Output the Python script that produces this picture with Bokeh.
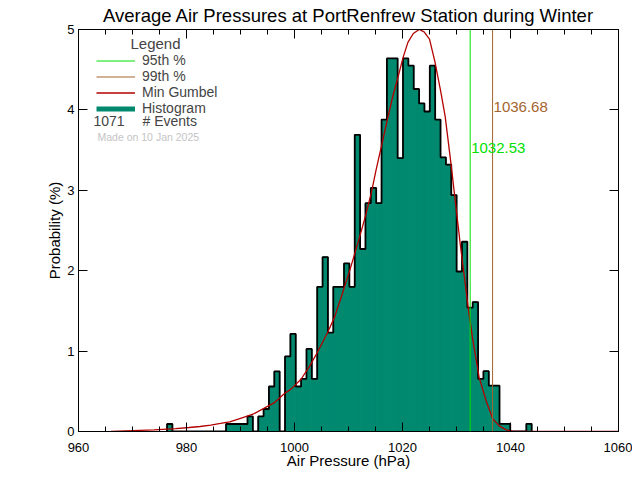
import numpy as np
from bokeh.plotting import figure
from bokeh.models import (Range1d, LinearAxis, FixedTicker, Span, Label, Title,
                          Legend, LegendItem, ColumnDataSource, CustomJSTickFormatter)
from bokeh.embed import file_html
from bokeh.resources import INLINE

# ---------------- data ----------------
title_text = "Average Air Pressures at PortRenfrew Station during Winter"
x_label = "Air Pressure (hPa)"
y_label = "Probability (%)"
x_ticks = [960, 980, 1000, 1020, 1040, 1060]
y_ticks = [0, 1, 2, 3, 4, 5]

bin_start = 976.4      # left edge of first histogram bin (hPa)
bin_width = 0.993      # hPa
probability = [
    0.093, 0, 0, 0, 0, 0, 0, 0, 0, 0,
    0, 0.093, 0.093, 0.093, 0.093, 0.187, 0, 0.187, 0.28, 0.56,
    0.747, 0, 0.934, 1.214, 0.56, 0.654, 1.027, 0.654, 1.80, 2.17,
    1.23, 1.80, 1.80, 2.09, 1.80, 3.69, 2.27, 2.84, 3.03, 2.84,
    3.88, 4.64, 4.64, 3.40, 4.64, 4.55, 4.26, 4.08, 3.98, 4.55,
    3.88, 3.41, 3.32, 2.94, 1.99, 2.36, 1.54, 1.61, 0.655, 0.75,
    0.57, 0.57, 0.096, 0.096, 0, 0, 0, 0.096,
]

gumbel_x = [966, 970, 974, 978, 980.5, 982.5, 984.5, 986.3, 988, 990.7,
            992.3, 994.4, 996.3, 998.1, 999.4, 1001.2, 1002.7, 1004.2, 1006.2, 1007.4,
            1008.6, 1010.3, 1011.1, 1012.1, 1013.1, 1014.2, 1015.1, 1016.1, 1017.3, 1018.2,
            1019.1, 1020.1, 1021.0, 1022.0, 1023.1, 1024.0, 1025.0, 1026.0, 1027.1, 1027.9,
            1029.0, 1029.9, 1030.8, 1031.5, 1032.2, 1033.0, 1034.2, 1035.5, 1036.7, 1037.9,
            1039.2, 1040.4, 1045, 1050, 1060]
gumbel_y = [0.0, 0.01, 0.02, 0.037, 0.05, 0.062, 0.08, 0.1, 0.12, 0.18,
            0.215, 0.29, 0.36, 0.47, 0.53, 0.65, 0.8, 0.98, 1.24, 1.42,
            1.66, 2.02, 2.2, 2.43, 2.67, 2.96, 3.25, 3.55, 3.91, 4.17,
            4.39, 4.65, 4.84, 4.95, 5.0, 4.97, 4.88, 4.6, 4.22, 3.92,
            3.32, 2.79, 2.27, 1.9, 1.52, 1.15, 0.67, 0.38, 0.16, 0.07,
            0.02, 0.005, 0, 0, 0]

p95 = 1032.53
p99 = 1036.68
p95_label_y = 3.53
p99_label_y = 4.04
n_events = 1071
made_on = "Made on 10 Jan 2025"

# ---------------- styling ----------------
FONT = "Liberation Sans"
TEAL = "#00896f"
RED = "#b40000"
GREEN = "#00e000"
BROWN = "#a5642d"

probability = np.array(probability, dtype=float)
edges = bin_start + bin_width * np.arange(len(probability) + 1)
left = edges[:-1]
right = edges[1:]

p = figure(width=632, height=472, output_backend="svg", toolbar_location=None,
           x_range=Range1d(960, 1060), y_range=Range1d(0, 5),
           min_border_left=78, min_border_right=14, min_border_top=29,
           min_border_bottom=41, x_axis_location=None, y_axis_location=None)
p.title = Title(text=title_text, align="center", vertical_align="middle",
                text_font=FONT, text_font_size="18.5px", text_font_style="normal",
                text_color="black", standoff=6, offset=0)
p.grid.visible = False
p.outline_line_color = "black"
p.outline_line_width = 1
p.background_fill_color = "white"
p.border_fill_color = "white"

# histogram bars
src = ColumnDataSource(dict(left=left, right=right, top=probability))
p.quad(left="left", right="right", top="top", bottom=0, source=src,
       fill_color=TEAL, line_color=TEAL, line_width=1)

# histogram outline (step)
sx = [edges[0]]
sy = [0.0]
for l, r, h in zip(left, right, probability):
    sx += [l, r]
    sy += [h, h]
sx.append(edges[-1])
sy.append(0.0)
p.line(sx, sy, line_color="black", line_width=1.8)

# Gumbel curve
gum = p.line(gumbel_x, gumbel_y, line_color=RED, line_width=1.3)

# percentiles
p.add_layout(Span(location=p95, dimension="height", line_color=GREEN, line_width=1))
p.add_layout(Span(location=p99, dimension="height", line_color=BROWN, line_width=1))
p.add_layout(Label(x=p95, y=p95_label_y, text=f"{p95:.2f}", x_offset=1,
                   text_baseline="middle", text_color=GREEN,
                   text_font=FONT, text_font_size="15px"))
p.add_layout(Label(x=p99, y=p99_label_y, text=f"{p99:.2f}", x_offset=1,
                   text_baseline="middle", text_color=BROWN,
                   text_font=FONT, text_font_size="15px"))

# axes (box with inward ticks)
blank = CustomJSTickFormatter(code="return ''")

def style_axis(ax, show_labels):
    ax.axis_line_color = "black"
    ax.major_tick_in = 9
    ax.major_tick_out = 0
    ax.minor_tick_in = 5
    ax.minor_tick_out = 0
    ax.major_tick_line_color = "black"
    ax.minor_tick_line_color = "black"
    ax.major_label_text_font = FONT
    ax.major_label_text_color = "black"
    ax.axis_label_text_font = FONT
    ax.axis_label_text_font_style = "normal"
    ax.axis_label_text_color = "black"
    if not show_labels:
        ax.formatter = blank
        ax.major_label_standoff = 0

xt = FixedTicker(ticks=x_ticks, minor_ticks=list(np.arange(960, 1061, 5)))
yt = FixedTicker(ticks=y_ticks, minor_ticks=[])

xb = LinearAxis(ticker=xt, axis_label=x_label)
style_axis(xb, True)
xb.major_label_text_font_size = "13px"
xb.major_label_standoff = 11
xb.axis_label_text_font_size = "15px"
xb.axis_label_standoff = -3
p.add_layout(xb, "below")

xa = LinearAxis(ticker=xt)
style_axis(xa, False)
xa.major_label_standoff = 5
p.add_layout(xa, "above")

yl = LinearAxis(ticker=yt, axis_label=y_label)
style_axis(yl, True)
yl.major_label_text_font_size = "13px"
yl.major_label_standoff = 4
yl.axis_label_text_font_size = "15px"
yl.axis_label_standoff = 1
p.add_layout(yl, "left")

yr = LinearAxis(ticker=yt)
style_axis(yr, False)
p.add_layout(yr, "right")

# legend (sample lines via non-drawn renderers)
nan = [np.nan]
r95 = p.line(nan, nan, line_color=GREEN, line_width=1)
r99 = p.line(nan, nan, line_color=BROWN, line_width=1)
rhist = p.line(nan, nan, line_color=TEAL, line_width=5)
legend = Legend(items=[LegendItem(label="95th %", renderers=[r95]),
                       LegendItem(label="99th %", renderers=[r99]),
                       LegendItem(label="Min Gumbel", renderers=[gum]),
                       LegendItem(label="Histogram", renderers=[rhist])],
                location=(18, 315), padding=0, margin=0, spacing=0,
                glyph_width=39, glyph_height=15, label_height=15,
                label_standoff=7, label_text_font=FONT,
                label_text_font_size="14px", border_line_color=None,
                background_fill_alpha=0)
p.add_layout(legend, "center")

p.add_layout(Label(x=77, y=388, x_units="screen", y_units="screen", text="Legend",
                   text_align="center", text_baseline="middle",
                   text_font=FONT, text_font_size="15px"))
p.add_layout(Label(x=15, y=311, x_units="screen", y_units="screen", text=str(n_events),
                   text_baseline="middle", text_font=FONT, text_font_size="14px"))
p.add_layout(Label(x=64, y=311, x_units="screen", y_units="screen", text="# Events",
                   text_baseline="middle", text_font=FONT, text_font_size="14px"))
p.add_layout(Label(x=19, y=295, x_units="screen", y_units="screen", text=made_on,
                   text_baseline="middle", text_color="#c4c4c4",
                   text_font=FONT, text_font_size="10.5px"))

open("out.html", "w").write(file_html(p, INLINE))
